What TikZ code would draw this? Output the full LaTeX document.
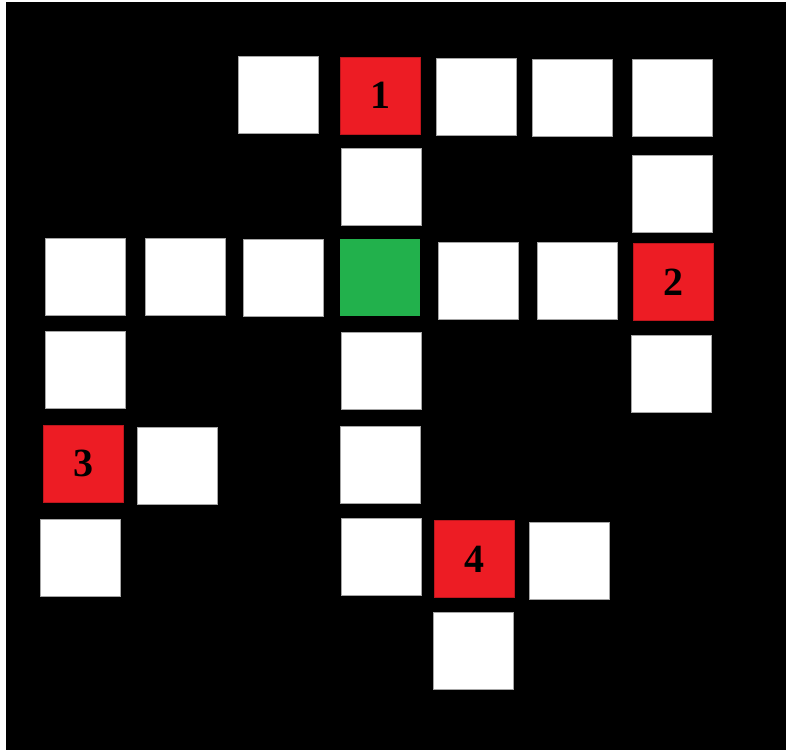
\documentclass[tikz,border=0pt]{standalone}
\usepackage{fontspec}
\setmainfont{Liberation Serif}
\usepackage{xcolor}
\definecolor{clueRed}{HTML}{ED1C24}
\definecolor{startGreen}{HTML}{22B14C}

\begin{document}
\begin{tikzpicture}[x=1pt, y=-1pt,
    cell/.style={rectangle, fill=white, draw=gray!70, line width=0.8pt,
                 minimum width=80pt, minimum height=77pt, inner sep=0pt},
    clue/.style={rectangle, fill=clueRed, draw=clueRed!80!black, line width=0.6pt,
                 minimum width=80pt, minimum height=77pt, inner sep=0pt,
                 font=\fontsize{40}{44}\selectfont\bfseries},
    start/.style={rectangle, fill=startGreen,
                  minimum width=80pt, minimum height=77pt, inner sep=0pt},
]

% page and black board
\useasboundingbox (0,0) rectangle (786,751);
\fill[white] (0,0) rectangle (786,751);
\fill[black] (6,2) rectangle (786,750);

% Row 1
\node[cell]  (r1c3) at (278, 94.5) {};
\node[clue]  (r1c4) at (380, 95.5) {1};
\node[cell]  (r1c5) at (476, 96.5) {};
\node[cell]  (r1c6) at (572, 98)   {};
\node[cell]  (r1c7) at (672, 98)   {};

% Row 2
\node[cell]  (r2c4) at (381, 186.5) {};
\node[cell]  (r2c7) at (672, 193.5) {};

% Row 3
\node[cell]  (r3c1) at (85, 276.5)  {};
\node[cell]  (r3c2) at (185, 276.5) {};
\node[cell]  (r3c3) at (283, 277.5) {};
\node[start] (r3c4) at (380, 277.5) {};
\node[cell]  (r3c5) at (478, 280.5) {};
\node[cell]  (r3c6) at (577, 280.5) {};
\node[clue]  (r3c7) at (673, 282)   {2};

% Row 4
\node[cell]  (r4c1) at (85, 370)    {};
\node[cell]  (r4c4) at (381, 371)   {};
\node[cell]  (r4c7) at (671, 373.5) {};

% Row 5
\node[clue]  (r5c1) at (83, 463.5)  {3};
\node[cell]  (r5c2) at (177, 465.5) {};
\node[cell]  (r5c4) at (380, 465)   {};

% Row 6
\node[cell]  (r6c1) at (80.5, 558)  {};
\node[cell]  (r6c4) at (381, 557)   {};
\node[clue]  (r6c5) at (474.5, 559) {4};
\node[cell]  (r6c6) at (569, 560.5) {};

% Row 7
\node[cell]  (r7c5) at (473, 650.5) {};

\end{tikzpicture}
\end{document}
